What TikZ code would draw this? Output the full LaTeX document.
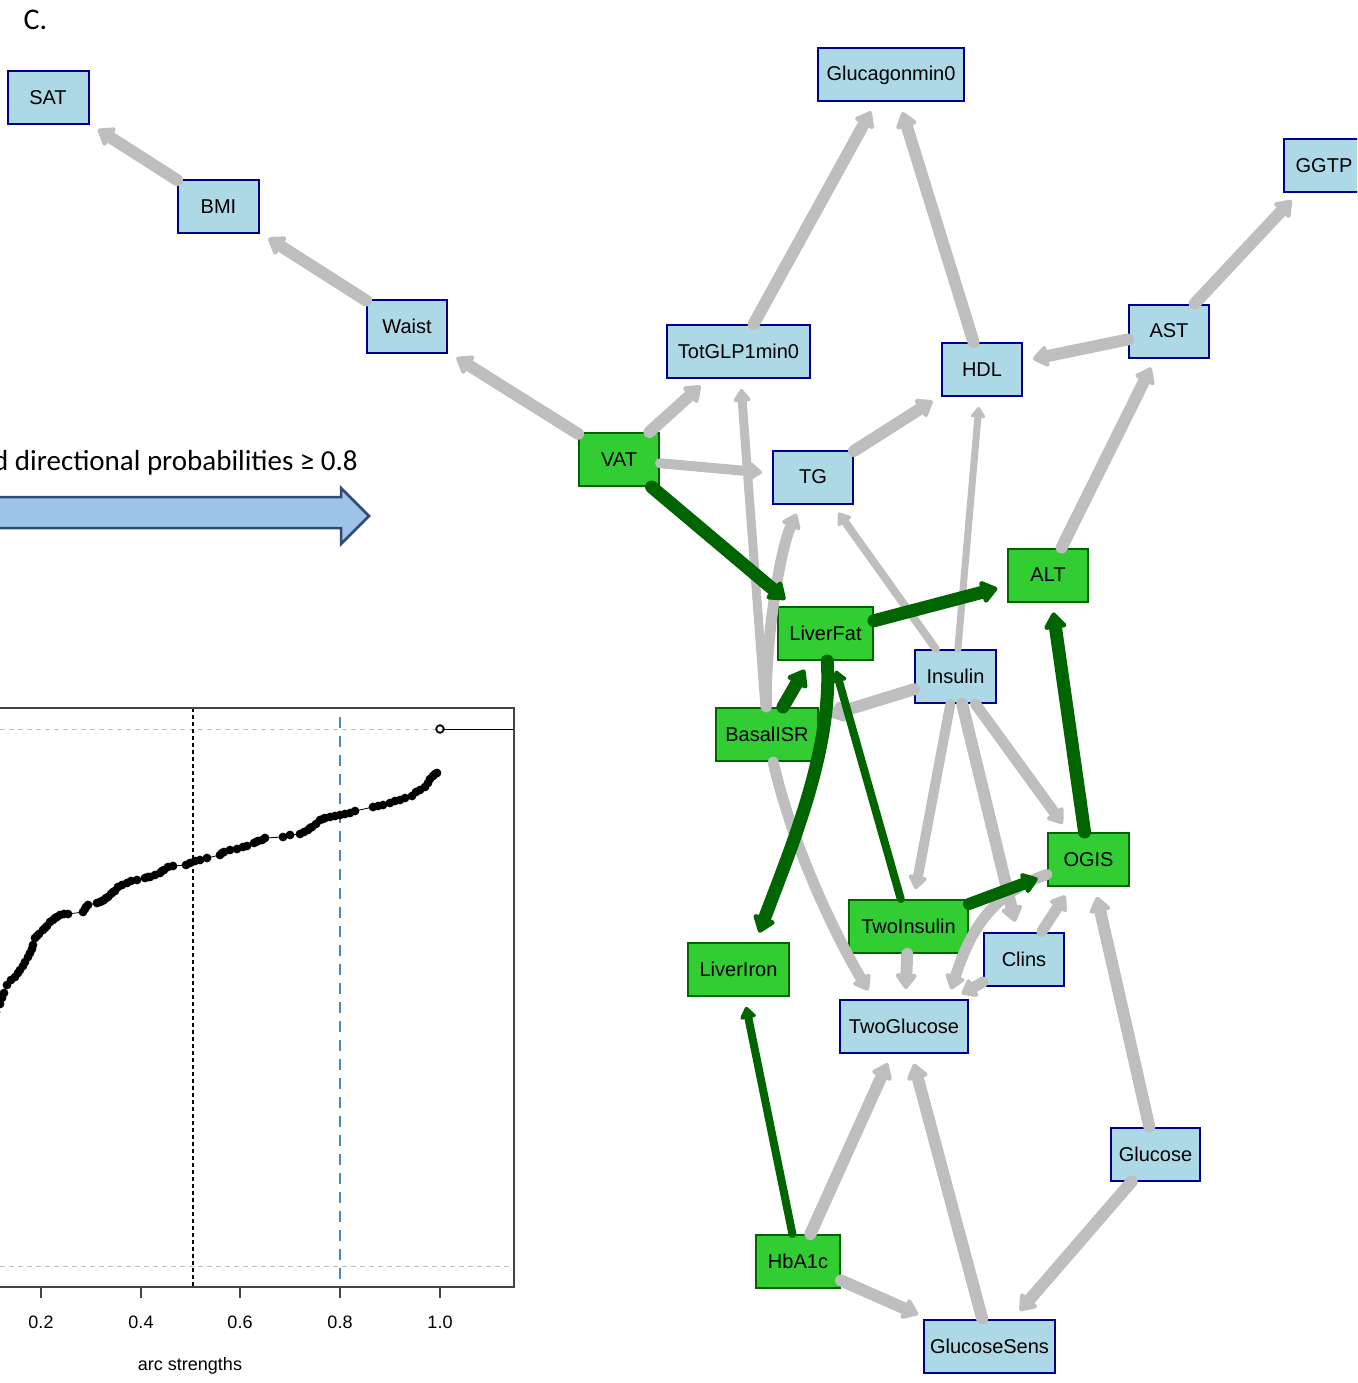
\documentclass[tikz,border=0pt]{standalone}
\usepackage{fontspec}
\setmainfont{Liberation Sans}
\newfontfamily\calfont{Carlito}
\usetikzlibrary{arrows.meta}
\definecolor{nodeblue}{HTML}{ADD8E6}
\definecolor{borderblue}{HTML}{00008B}
\definecolor{nodegreen}{HTML}{32CD32}
\definecolor{bordergreen}{HTML}{006400}
\definecolor{edgegray}{HTML}{BEBEBE}
\definecolor{edgegreen}{HTML}{006400}
\definecolor{arrowfill}{HTML}{9DC3E6}
\definecolor{arrowline}{HTML}{2F4B73}
\definecolor{refblue}{HTML}{4A86C0}
\definecolor{framegray}{HTML}{444444}
\definecolor{guidegray}{HTML}{BBBBBB}
\tikzset{
  bnode/.style={draw=borderblue, fill=nodeblue, line width=2pt, minimum height=53pt,
    inner sep=0pt, font=\fontsize{20}{24}\selectfont, minimum width=#1},
  gnode/.style={draw=bordergreen, fill=nodegreen, line width=2pt, minimum height=53pt,
    inner sep=0pt, font=\fontsize{20}{24}\selectfont, minimum width=#1},
  gedge/.style={draw=edgegray, line width=#1, line cap=round, shorten >=10pt,
    -{Triangle[round, length=5pt 1.0, width=6pt 1.5]}},
  dedge/.style={draw=edgegreen, line width=#1, line cap=round, shorten >=10pt,
    -{Triangle[round, length=5pt 1.0, width=6pt 1.5]}},
  ticklab/.style={font=\fontsize{18}{20}\selectfont},
  ecdfdot/.style={fill=black},
}
\begin{document}
\begin{tikzpicture}[x=1pt, y=-1pt]
\useasboundingbox (0,0) rectangle (1357,1383);
\clip (0,0) rectangle (1357,1383);

% ---- left panel ----
\node[anchor=base west, font=\calfont\fontsize{30}{34}\selectfont] (clabel) at (20,30) {C.};
\node[anchor=base east, font=\calfont\fontsize{29}{34}\selectfont, inner sep=0pt] (caption) at (358,470)
  {d directional probabilities ≥ 0.8};
\draw[fill=arrowfill, draw=arrowline, line width=2.5pt, line join=miter]
  (-20,497) -- (341,497) -- (341,488) -- (369,516) -- (341,544) -- (341,528) -- (-20,528) -- cycle;

% plot
\draw[guidegray, line width=1pt, dash pattern=on 5pt off 4pt] (0,729) -- (514,729);
\draw[guidegray, line width=1pt, dash pattern=on 5pt off 4pt] (0,1266) -- (514,1266);
\draw[black, line width=1.3pt, dash pattern=on 4pt off 3pt] (193,708) -- (193,1287);
\draw[refblue, line width=2.8pt, dash pattern=on 11pt off 8pt] (340,717) -- (340,1287);
\draw[framegray, line width=1.5pt] (-5,708) -- (514,708) -- (514,1287) -- (-5,1287);
\foreach \x/\l in {41/0.2, 141/0.4, 240/0.6, 340/0.8, 440/1.0}{
  \draw[framegray, line width=1.5pt] (\x,1287) -- (\x,1298);
  \node[ticklab] at (\x,1322) {\l};
}
\node[ticklab] (xlab) at (190,1366) {arc strengths};
\draw[black, line width=1pt] (444,729) -- (514,729);
\draw[black, line width=1.8pt] (440,729) circle (3.8pt);
\draw[black, line width=0.8pt] plot coordinates {
(-4,1012) (0,1004) (4,993) (7,985) (11,980) (15,977) (20,970) (25,962) (28,957) (30,953) (33,945)
(35,938) (39,934) (43,930) (47,926) (50,922) (53,920) (57,917) (60,915) (64,914) (68,914)
(83,912) (86,907) (88,905) (97,903) (100,902) (104,900) (108,897) (111,894) (115,891) (118,887)
(122,885) (127,883) (131,881) (137,880) (145,878) (150,877) (155,875) (160,873) (164,870) (168,867)
(173,866) (186,865) (190,863) (195,861) (200,860) (207,858) (220,855) (224,852) (230,850) (237,849)
(243,847) (247,846) (254,843) (258,841) (262,840) (265,838) (283,837) (290,835) (300,834) (304,832)
(308,830) (312,827) (316,824) (320,820) (325,818) (330,817) (335,816) (340,815) (345,814) (350,813)
(355,811) (373,807) (378,806) (383,805) (390,803) (395,801) (400,800) (405,798) (412,796) (416,792)
(420,790) (425,787) (428,783) (430,779) (433,776) (437,773)};
\foreach \px/\py in {
-4/1012, 0/1004, 2/998, 4/993, 7/985, 11/980, 15/977, 18/973, 20/970, 23/966, 25/962, 28/957, 30/953, 32/949, 33/945,
35/938, 37/936, 39/934, 43/930, 45/928, 47/926, 50/922, 53/920, 55/918, 57/917, 60/915, 64/914, 68/914,
83/912, 85/909, 86/907, 88/905, 97/903, 100/902, 102/901, 104/900, 106/898, 108/897, 111/894, 113/892, 115/891, 118/887,
122/885, 127/883, 131/881, 137/880, 145/878, 148/877, 150/877, 155/875, 160/873, 162/871, 164/870, 168/867,
173/866, 186/865, 190/863, 195/861, 200/860, 207/858, 220/855, 222/853, 224/852, 230/850, 237/849,
243/847, 247/846, 254/843, 256/842, 258/841, 262/840, 265/838, 283/837, 290/835, 300/834, 304/832,
308/830, 310/828, 312/827, 316/824, 320/820, 323/819, 325/818, 330/817, 335/816, 340/815, 345/814, 350/813,
355/811, 373/807, 378/806, 383/805, 390/803, 395/801, 400/800, 405/798, 412/796, 416/792,
420/790, 425/787, 428/783, 430/779, 433/776, 435/774, 437/773}{
  \fill[ecdfdot] (\px,\py) circle (4.4pt);
}

% ---- network nodes ----
\node[bnode=81]  (sat)   at (48,97.5)    {SAT};
\node[bnode=81]  (bmi)   at (218.5,206.5) {BMI};
\node[bnode=80]  (waist) at (407,326.5)  {Waist};
\node[gnode=80]  (vat)   at (619,459.5)  {VAT};
\node[bnode=143] (totglp) at (738.5,351.5) {TotGLP1min0};
\node[bnode=146] (glucagon) at (891,75)  {Glucagonmin0};
\node[bnode=80]  (hdl)   at (982,369.5)  {HDL};
\node[bnode=80]  (ast)   at (1169,331)   {AST};
\node[bnode=80]  (ggtp)  at (1324,165.5) {GGTP};
\node[bnode=80]  (tg)    at (813,477)    {TG};
\node[gnode=80]  (alt)   at (1048,575)   {ALT};
\node[gnode=95]  (liverfat) at (825.5,633.5) {LiverFat};
\node[bnode=81]  (insulin) at (955.5,676.5) {Insulin};
\node[gnode=102] (basal) at (767,734.5)  {BasalISR};
\node[gnode=81]  (ogis)  at (1088.5,859.5) {OGIS};
\node[gnode=119] (twoins) at (908.5,926.5) {TwoInsulin};
\node[bnode=80]  (clins) at (1024,959)   {Clins};
\node[gnode=101] (liveriron) at (738.5,969.5) {LiverIron};
\node[bnode=128] (twoglu) at (904,1026.5) {TwoGlucose};
\node[bnode=89]  (glucose) at (1155.5,1154) {Glucose};
\node[gnode=84]  (hba1c) at (798,1261.5) {HbA1c};
\node[bnode=131] (glusens) at (989.5,1346) {GlucoseSens};

% ---- edges ----
\draw[gedge=12] (bmi) -- (sat);
\draw[gedge=12] (waist) -- (bmi);
\draw[gedge=12] (vat) -- (waist);
\draw[gedge=12] (vat) -- (totglp);
\draw[gedge=10] (vat) -- (tg);
\draw[gedge=12] (totglp) -- (glucagon);
\draw[gedge=12] (hdl) -- (glucagon);
\draw[gedge=12] (ast) -- (hdl);
\draw[gedge=12] (ast) -- (ggtp);
\draw[gedge=12] (alt) -- (ast);
\draw[gedge=12] (tg) -- (hdl);
\draw[gedge=9] (basal) -- (totglp);
\draw[gedge=11] (basal) .. controls (765,640) and (780,550) .. (tg);
\draw[gedge=8] (insulin) -- (tg);
\draw[gedge=7] (insulin) -- (hdl);
\draw[gedge=12] (insulin) -- (basal);
\draw[gedge=10] (insulin) -- (twoins);
\draw[gedge=12] (insulin) -- (clins);
\draw[gedge=11] (insulin) -- (ogis);
\draw[gedge=11] (ogis) .. controls (995,893) and (972,925) .. (twoglu.32);
\draw[gedge=11] (clins) -- (ogis);
\draw[gedge=11] (clins) -- (twoglu);
\draw[gedge=12] (twoins) -- (twoglu);
\draw[gedge=11] (basal) .. controls (792,845) and (835,935) .. (twoglu.138);
\draw[gedge=12] (glucose) -- (ogis);
\draw[gedge=12] (glucose) -- (glusens);
\draw[gedge=12] (hba1c) -- (twoglu);
\draw[gedge=12] (hba1c) -- (glusens);
\draw[gedge=12] (glusens) -- (twoglu);
\draw[dedge=13] (vat) -- (liverfat);
\draw[dedge=13] (basal) -- (liverfat);
\draw[dedge=13] (liverfat) -- (alt);
\draw[dedge=13] (liverfat) .. controls (833,750) and (790,850) .. (liveriron.58);
\draw[dedge=8] (twoins) -- (liverfat);
\draw[dedge=13] (ogis) -- (alt);
\draw[dedge=12] (twoins) -- (ogis);
\draw[dedge=8] (hba1c) -- (liveriron);
\end{tikzpicture}
\end{document}
